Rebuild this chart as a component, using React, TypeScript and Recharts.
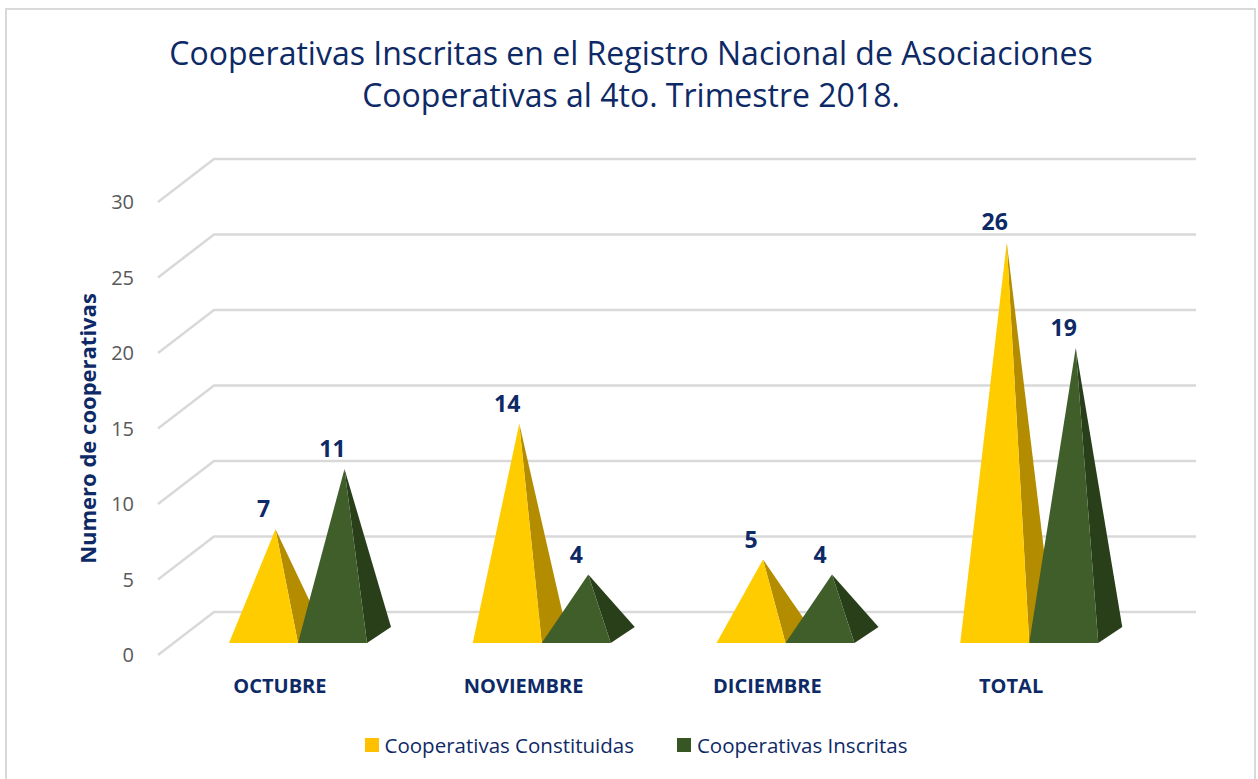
import React from "react";
import { BarChart, Bar, XAxis, YAxis, CartesianGrid, LabelList } from "recharts";

const categories = ["OCTUBRE", "NOVIEMBRE", "DICIEMBRE", "TOTAL"];
const constituidas = [7, 14, 5, 26];
const inscritas = [11, 4, 4, 19];
const yTicks = [0, 5, 10, 15, 20, 25, 30];
const seriesNames = ["Cooperativas Constituidas", "Cooperativas Inscritas"];

const data = categories.map((c, i) => ({
  name: c,
  constituidas: constituidas[i],
  inscritas: inscritas[i],
}));

const FONT = "'Open Sans', 'Noto Sans', sans-serif";
const NAVY = "#0E2A66";
const YELLOW = { front: "#FFCC00", side: "#B48C00", legend: "#FFC000" };
const GREEN = { front: "#3F5E2A", side: "#283F1A", legend: "#375623" };

// 3D offsets
const FRONT_DX = 18;
const FRONT_DY = 12;
const DEPTH_DX = 24;
const DEPTH_DY = 16;
const WALL_DX = 56;
const WALL_DY = 43;

const makePyramid = (colors: { front: string; side: string }) => (props: any) => {
  const { x, y, width, height } = props;
  if (width == null || height == null) return null;
  const bottom = y + height;
  const flx = x + FRONT_DX;
  const fy = bottom - FRONT_DY;
  const frx = flx + width;
  const brx = frx + DEPTH_DX;
  const bry = fy - DEPTH_DY;
  const ax = flx + width / 2 + DEPTH_DX / 2;
  const ay = y - FRONT_DY - DEPTH_DY / 2;
  return (
    <g>
      <polygon points={`${frx},${fy} ${brx},${bry} ${ax},${ay}`} fill={colors.side} />
      <polygon points={`${flx},${fy} ${frx},${fy} ${ax},${ay}`} fill={colors.front} />
    </g>
  );
};

const valueLabel = (props: any) => {
  const { x, y, width, value } = props;
  return (
    <text
      x={x + FRONT_DX + width / 2}
      y={y - 41}
      textAnchor="middle"
      dominantBaseline="central"
      fill={NAVY}
      fontFamily={FONT}
      fontSize={23}
      fontWeight={700}
    >
      {value}
    </text>
  );
};

const wallLine = (props: any) => {
  const { x1, y1, x2 } = props;
  return (
    <path
      key={`wl-${y1}`}
      d={`M${x1},${y1} L${x1 + WALL_DX},${y1 - WALL_DY} L${x2 + 63},${y1 - WALL_DY}`}
      stroke="#D9D9D9"
      strokeWidth={2.5}
      fill="none"
    />
  );
};

export default function App() {
  return (
    <div style={{ position: "relative", width: 1258, height: 779, background: "#fff", overflow: "hidden" }}>
      <style>{"body{margin:0}"}</style>
      <div
        style={{
          position: "absolute",
          left: 5,
          top: 8,
          width: 1251,
          height: 790,
          border: "2px solid #D9D9D9",
          boxSizing: "border-box",
        }}
      />
      <div
        style={{
          position: "absolute",
          left: 0,
          top: 32,
          width: 1262,
          textAlign: "center",
          fontFamily: FONT,
          fontSize: 32,
          lineHeight: "42px",
          color: NAVY,
        }}
      >
        Cooperativas Inscritas en el Registro Nacional de Asociaciones
        <br />
        Cooperativas al 4to. Trimestre 2018.
      </div>
      <div style={{ position: "absolute", left: 0, top: 0 }}>
        <BarChart
          width={1258}
          height={779}
          data={data}
          margin={{ top: 202, right: 125, bottom: 94, left: 98 }}
          barGap={0}
          barSize={69}
        >
          <CartesianGrid horizontal={wallLine} vertical={false} />
          <XAxis
            dataKey="name"
            axisLine={false}
            tickLine={false}
            height={30}
            tickSize={0}
            tickMargin={24}
            tick={{ fill: NAVY, fontFamily: FONT, fontSize: 20, fontWeight: 700 }}
          />
          <YAxis
            domain={[0, 30]}
            ticks={yTicks}
            width={60}
            axisLine={false}
            tickLine={false}
            tickSize={0}
            tickMargin={24}
            tick={{ fill: "#595959", fontFamily: FONT, fontSize: 20 }}
            label={{
              value: "Numero de cooperativas",
              angle: -90,
              position: "left",
              offset: 10,
              fill: NAVY,
              fontFamily: FONT,
              fontSize: 22,
              fontWeight: 700,
              textAnchor: "middle",
            }}
          />
          <Bar dataKey="constituidas" name={seriesNames[0]} shape={makePyramid(YELLOW)} isAnimationActive={false}>
            <LabelList dataKey="constituidas" content={valueLabel} />
          </Bar>
          <Bar dataKey="inscritas" name={seriesNames[1]} shape={makePyramid(GREEN)} isAnimationActive={false}>
            <LabelList dataKey="inscritas" content={valueLabel} />
          </Bar>
        </BarChart>
      </div>
      <div
        style={{
          position: "absolute",
          left: 0,
          top: 731,
          width: 1272,
          display: "flex",
          justifyContent: "center",
          alignItems: "center",
          fontFamily: FONT,
          fontSize: 20.5,
          color: NAVY,
        }}
      >
        <span style={{ display: "inline-block", width: 14, height: 14, background: YELLOW.legend, marginRight: 6 }} />
        <span style={{ marginRight: 43 }}>{seriesNames[0]}</span>
        <span style={{ display: "inline-block", width: 14, height: 14, background: GREEN.legend, marginRight: 6 }} />
        <span>{seriesNames[1]}</span>
      </div>
    </div>
  );
}
